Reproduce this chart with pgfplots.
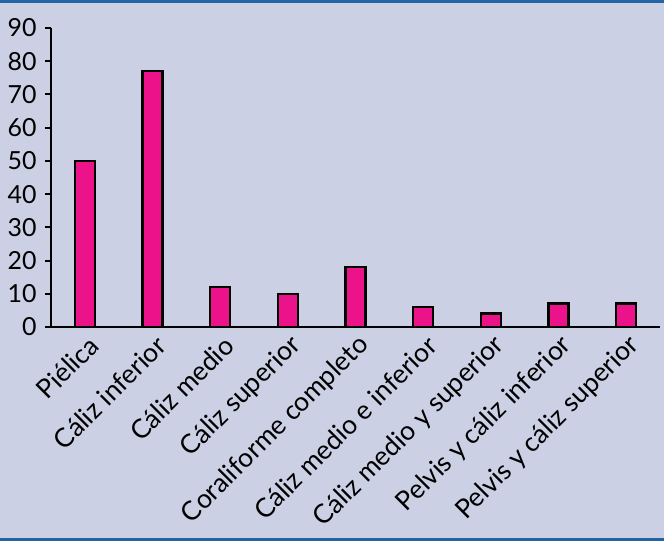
\documentclass[border=0pt]{standalone}
\usepackage{pgfplots}
\pgfplotsset{compat=1.18}
\usepackage{fontspec}
\setmainfont{Lato}
\definecolor{bg}{HTML}{CBD0E4}
\definecolor{frame}{HTML}{2464A4}
\definecolor{barpink}{HTML}{EC138A}
\begin{document}
\begin{tikzpicture}
\fill[bg] (-51bp,-214bp) rectangle (613bp,327bp);
\fill[frame] (-51bp,324bp) rectangle (613bp,327bp);
\fill[frame] (-51bp,-214bp) rectangle (613bp,-211bp);
\begin{axis}[
  at={(0,0)}, anchor=south west,
  scale only axis, width=609bp, height=299bp,
  xmin=-0.5, xmax=8.5, ymin=0, ymax=90,
  axis x line*=bottom, axis y line*=left,
  axis line style={line width=2bp, black},
  ytick={0,10,...,90},
  xtick={0,...,8},
  xticklabels={Piélica, Cáliz inferior, Cáliz medio, Cáliz superior, Coraliforme completo, Cáliz medio e inferior, Cáliz medio y superior, Pelvis y cáliz inferior, Pelvis y cáliz superior},
  x tick style={draw=none},
  y tick style={line width=2bp, black},
  tick align=outside, major tick length=6bp,
  yticklabel style={font=\fontsize{25}{28}\selectfont, xshift=-5bp},
  /pgf/number format/assume math mode=true,
  xticklabel style={font=\fontsize{26.5}{30}\selectfont, rotate=45, anchor=east, xshift=4bp, yshift=-12bp},
]
\addplot[ybar, bar width=20bp, fill=barpink, draw=black, line width=2.5bp]
  coordinates {(0,50) (1,77) (2,12) (3,10) (4,18) (5,6) (6,4) (7,7) (8,7)};
\end{axis}
\end{tikzpicture}
\end{document}
